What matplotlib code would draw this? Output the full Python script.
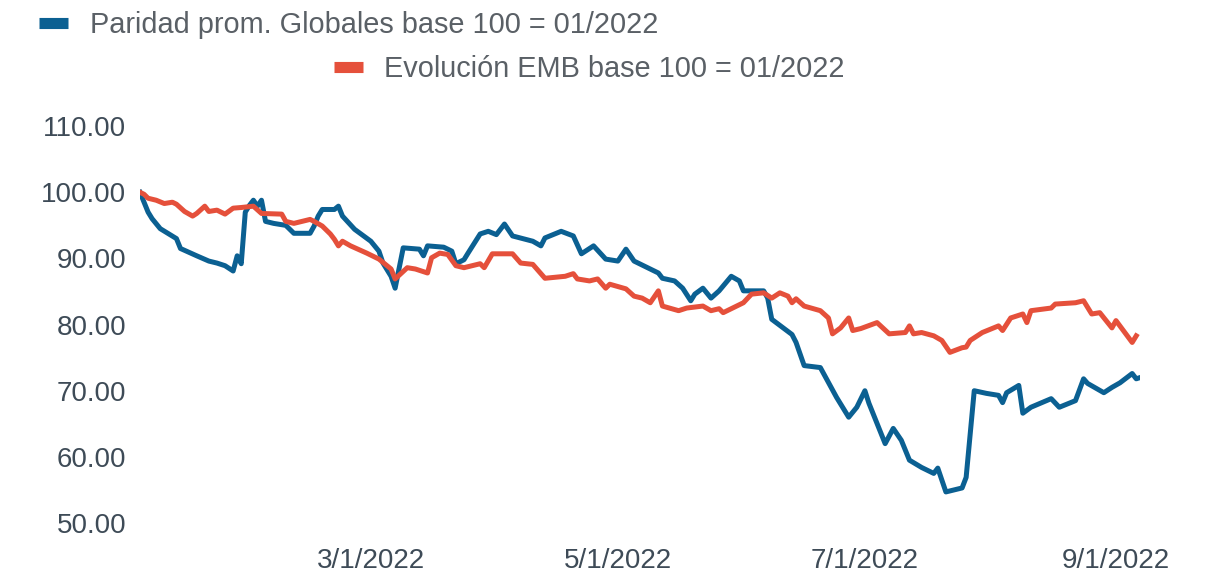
import pandas as pd
import matplotlib.pyplot as plt
from matplotlib.lines import Line2D

plt.rcParams['font.family'] = ['Liberation Sans', 'DejaVu Sans']

# Paridad promedio Globales (base 100 = 01/2022)
glob_dates = [
    "2022-01-03", "2022-01-05", "2022-01-06", "2022-01-08", "2022-01-12", "2022-01-13",
    "2022-01-17", "2022-01-20", "2022-01-22", "2022-01-24", "2022-01-26", "2022-01-27",
    "2022-01-28", "2022-01-29", "2022-01-30", "2022-01-31", "2022-02-01", "2022-02-02",
    "2022-02-03", "2022-02-05", "2022-02-08", "2022-02-10", "2022-02-14", "2022-02-15",
    "2022-02-16", "2022-02-17", "2022-02-20", "2022-02-21", "2022-02-22", "2022-02-25",
    "2022-03-01", "2022-03-03", "2022-03-04", "2022-03-06", "2022-03-07", "2022-03-09",
    "2022-03-13", "2022-03-14", "2022-03-15", "2022-03-19", "2022-03-21", "2022-03-22",
    "2022-03-24", "2022-03-25", "2022-03-28", "2022-03-30", "2022-04-01", "2022-04-03",
    "2022-04-05", "2022-04-10", "2022-04-12", "2022-04-13", "2022-04-17", "2022-04-20",
    "2022-04-22", "2022-04-25", "2022-04-28", "2022-05-01", "2022-05-03", "2022-05-05",
    "2022-05-09", "2022-05-11", "2022-05-12", "2022-05-15", "2022-05-17", "2022-05-19",
    "2022-05-20", "2022-05-22", "2022-05-24", "2022-05-26", "2022-05-29", "2022-05-31",
    "2022-06-01", "2022-06-06", "2022-06-07", "2022-06-08", "2022-06-13", "2022-06-14",
    "2022-06-16", "2022-06-20", "2022-06-24", "2022-06-27", "2022-06-29", "2022-07-01",
    "2022-07-02", "2022-07-06", "2022-07-08", "2022-07-10", "2022-07-12", "2022-07-15",
    "2022-07-18", "2022-07-19", "2022-07-21", "2022-07-25", "2022-07-26", "2022-07-28",
    "2022-07-31", "2022-08-03", "2022-08-04", "2022-08-05", "2022-08-08", "2022-08-09",
    "2022-08-11", "2022-08-16", "2022-08-18", "2022-08-22", "2022-08-24", "2022-08-25",
    "2022-08-29", "2022-08-31", "2022-09-02", "2022-09-05", "2022-09-06", "2022-09-07",
]
glob_vals = [
    100.0, 97.0, 96.0, 94.5, 93.0, 91.5,
    90.4, 89.6, 89.3, 88.9, 88.1, 90.4,
    89.2, 97.0, 98.0, 98.8, 97.9, 98.8,
    95.6, 95.3, 95.0, 93.8, 93.8, 94.9,
    96.4, 97.4, 97.4, 97.9, 96.4, 94.4,
    92.6, 91.1, 89.3, 87.3, 85.5, 91.6,
    91.4, 90.4, 91.9, 91.7, 91.1, 89.2,
    89.8, 90.8, 93.7, 94.1, 93.6, 95.2,
    93.4, 92.6, 91.9, 93.1, 94.1, 93.4,
    90.7, 91.9, 89.9, 89.6, 91.4, 89.6,
    88.4, 87.8, 87.0, 86.6, 85.5, 83.6,
    84.6, 85.5, 84.0, 85.1, 87.3, 86.6,
    85.1, 85.1, 84.0, 80.8, 78.5, 77.3,
    73.8, 73.5, 69.0, 66.0, 67.5, 70.0,
    68.1, 62.0, 64.3, 62.5, 59.5, 58.4,
    57.5, 58.3, 54.7, 55.3, 56.9, 70.0,
    69.6, 69.3, 68.2, 69.7, 70.8, 66.6,
    67.5, 68.8, 67.5, 68.5, 71.8, 71.1,
    69.7, 70.5, 71.2, 72.6, 71.8, 72.0,
]

# Evolucion EMB (base 100 = 01/2022)
emb_dates = [
    "2022-01-03", "2022-01-04", "2022-01-05", "2022-01-07", "2022-01-09", "2022-01-11",
    "2022-01-12", "2022-01-14", "2022-01-16", "2022-01-17", "2022-01-19", "2022-01-20",
    "2022-01-22", "2022-01-24", "2022-01-26", "2022-01-28", "2022-01-31", "2022-02-02",
    "2022-02-07", "2022-02-08", "2022-02-10", "2022-02-12", "2022-02-14", "2022-02-15",
    "2022-02-17", "2022-02-19", "2022-02-20", "2022-02-21", "2022-02-22", "2022-02-24",
    "2022-02-28", "2022-03-03", "2022-03-06", "2022-03-07", "2022-03-10", "2022-03-12",
    "2022-03-15", "2022-03-16", "2022-03-18", "2022-03-20", "2022-03-22", "2022-03-24",
    "2022-03-28", "2022-03-29", "2022-03-31", "2022-04-05", "2022-04-07", "2022-04-10",
    "2022-04-13", "2022-04-18", "2022-04-20", "2022-04-21", "2022-04-24", "2022-04-26",
    "2022-04-28", "2022-04-29", "2022-05-03", "2022-05-05", "2022-05-07", "2022-05-09",
    "2022-05-11", "2022-05-12", "2022-05-16", "2022-05-18", "2022-05-22", "2022-05-24",
    "2022-05-26", "2022-05-27", "2022-05-29", "2022-06-01", "2022-06-03", "2022-06-06",
    "2022-06-08", "2022-06-10", "2022-06-12", "2022-06-13", "2022-06-14", "2022-06-16",
    "2022-06-20", "2022-06-22", "2022-06-23", "2022-06-25", "2022-06-27", "2022-06-28",
    "2022-06-30", "2022-07-04", "2022-07-07", "2022-07-11", "2022-07-12", "2022-07-13",
    "2022-07-15", "2022-07-18", "2022-07-20", "2022-07-22", "2022-07-25", "2022-07-26",
    "2022-07-27", "2022-07-30", "2022-08-03", "2022-08-04", "2022-08-06", "2022-08-09",
    "2022-08-10", "2022-08-11", "2022-08-16", "2022-08-17", "2022-08-22", "2022-08-24",
    "2022-08-26", "2022-08-28", "2022-08-31", "2022-09-01", "2022-09-05", "2022-09-06",
]
emb_vals = [
    100.0, 99.7, 99.1, 98.8, 98.3, 98.5,
    98.2, 97.1, 96.4, 96.8, 97.9, 97.1,
    97.3, 96.7, 97.6, 97.7, 97.9, 96.8,
    96.7, 95.6, 95.3, 95.6, 95.9, 95.6,
    94.9, 93.7, 92.9, 91.9, 92.6, 91.9,
    90.8, 89.9, 88.4, 86.9, 88.6, 88.4,
    87.8, 90.1, 90.8, 90.6, 88.9, 88.6,
    89.2, 88.6, 90.7, 90.7, 89.3, 89.1,
    87.0, 87.3, 87.7, 86.9, 86.6, 86.9,
    85.5, 86.1, 85.4, 84.3, 84.0, 83.3,
    85.1, 82.8, 82.1, 82.5, 82.8, 82.1,
    82.4, 81.8, 82.4, 83.3, 84.6, 84.8,
    84.0, 84.8, 84.3, 83.3, 83.9, 82.8,
    82.1, 81.0, 78.6, 79.5, 81.0, 79.1,
    79.4, 80.3, 78.6, 78.8, 79.8, 78.6,
    78.8, 78.3, 77.6, 75.8, 76.5, 76.6,
    77.6, 78.8, 79.8, 79.1, 81.0, 81.6,
    80.3, 82.1, 82.5, 83.1, 83.3, 83.6,
    81.6, 81.8, 79.5, 80.6, 77.3, 78.3,
]

x_ticks = ["2022-03-01", "2022-05-01", "2022-07-01", "2022-09-01"]
y_ticks = [50, 60, 70, 80, 90, 100, 110]

label_glob = "Paridad prom. Globales base 100 = 01/2022"
label_emb = "Evolución EMB base 100 = 01/2022"

blue = "#0b6092"
red = "#e5503b"
tick_color = "#3e4b57"
legend_color = "#5a6066"

fig = plt.figure(figsize=(12.11, 5.76), dpi=100)
ax = fig.add_axes([0.1156, 0.092, 0.826, 0.689])

ax.plot(pd.to_datetime(glob_dates), glob_vals, color=blue, lw=3.6, solid_joinstyle='round')
ax.plot(pd.to_datetime(emb_dates), emb_vals, color=red, lw=3.6, solid_joinstyle='round')

ax.set_ylim(50, 110)
ax.set_xlim(pd.Timestamp("2022-01-03"), pd.Timestamp("2022-09-07"))
ax.set_yticks(y_ticks)
ax.set_yticklabels([f"{v:.2f}" for v in y_ticks])
xt = pd.to_datetime(x_ticks)
ax.set_xticks(xt)
ax.set_xticklabels([f"{d.month}/{d.day}/{d.year}" for d in xt])

ax.tick_params(axis='both', length=0, labelsize=20, colors=tick_color)
ax.tick_params(axis='y', pad=10)
ax.tick_params(axis='x', pad=18)
for s in ax.spines.values():
    s.set_visible(False)

# legend laid out on two rows, like the original
h1 = Line2D([], [], color=blue, lw=8, solid_capstyle='butt')
h2 = Line2D([], [], color=red, lw=8, solid_capstyle='butt')
fig.legend([h1], [label_glob], loc='center left', bbox_to_anchor=(0.023, 0.957),
           frameon=False, fontsize=20.8, handlelength=1.0, handletextpad=0.75,
           labelcolor=legend_color, borderaxespad=0)
fig.legend([h2], [label_emb], loc='center left', bbox_to_anchor=(0.266, 0.880),
           frameon=False, fontsize=20.8, handlelength=1.0, handletextpad=0.75,
           labelcolor=legend_color, borderaxespad=0)

fig.savefig("out.png", dpi=100)
